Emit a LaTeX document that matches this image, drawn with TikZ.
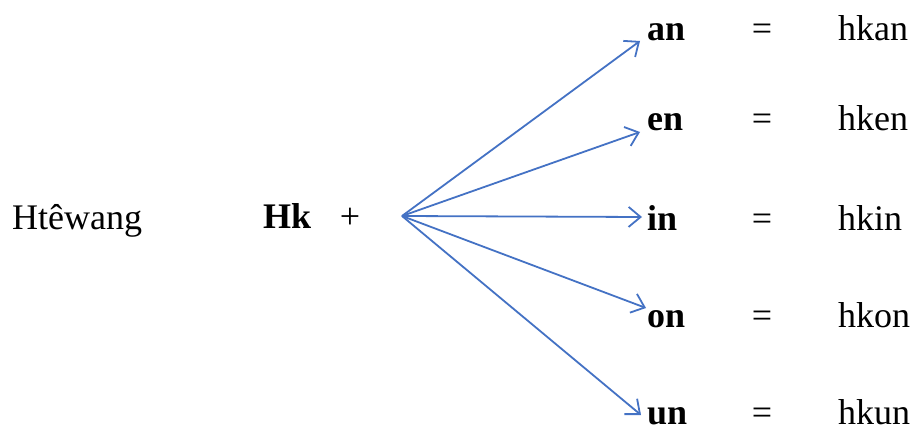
\documentclass[tikz,border=0pt]{standalone}
\usepackage{fontspec}
\setmainfont{LiberationSerif}[Extension=.ttf,UprightFont=*-Regular,BoldFont=*-Bold,ItalicFont=*-Italic,BoldItalicFont=*-BoldItalic]
\usetikzlibrary{arrows.meta}
\definecolor{arrowblue}{HTML}{4472C4}
\begin{document}
\begin{tikzpicture}[x=1pt,y=-1pt,
  txt/.style={anchor=base west,inner sep=0pt,font=\fontsize{36}{40}\selectfont},
  bold/.style={txt,font=\fontsize{36}{40}\selectfont\bfseries},
  eqs/.style={anchor=base,inner sep=0pt,font=\fontsize{36}{40}\selectfont},
  conn/.style={arrowblue,line width=1.8pt,-{Straight Barb[length=12pt,width=20pt,line width=1.8pt]}}]
\useasboundingbox (0,0) rectangle (918,433);
\node[txt] (htw) at (12,229) {Htêwang};
\node[bold] (hk) at (263,228) {Hk};
\node[eqs] (plus) at (350,228) {+};
\coordinate (o) at (402,216);
\foreach \n/\y/\r in {an/41/hkan,en/131/hken,in/230/hkin,on/327/hkon,un/424/hkun}{
  \node[bold] (\n) at (647,\y) {\n};
  \node[eqs] (eq\n) at (762,\y) {=};
  \node[txt] (r\n) at (838,\y) {\r};
}
\coordinate (tan) at (640,41);
\coordinate (ten) at (640,132);
\coordinate (tin) at (642,217);
\coordinate (ton) at (646,308);
\coordinate (tun) at (641,415);
\foreach \n in {an,en,in,on,un}{
  \draw[conn] (o) -- (t\n);
}
\end{tikzpicture}
\end{document}
